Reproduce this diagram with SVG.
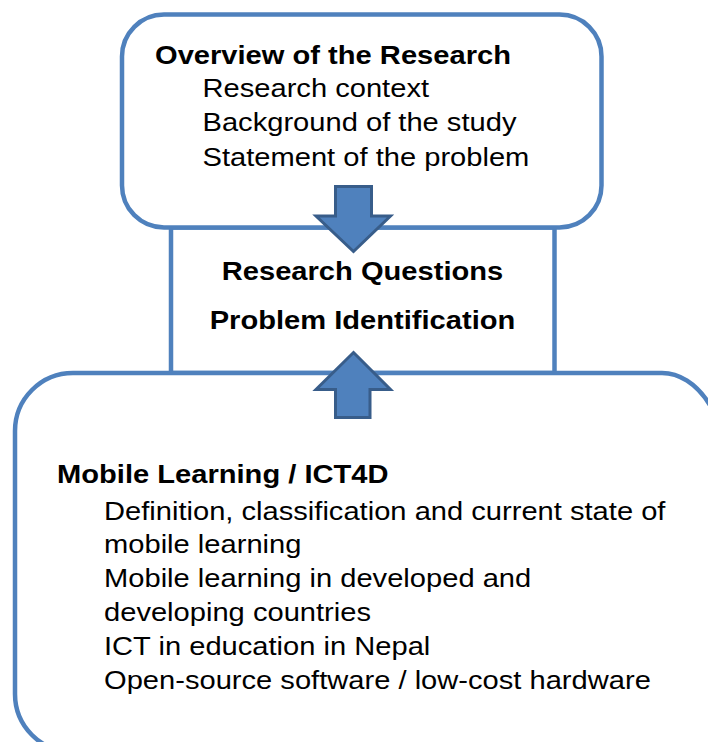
<svg xmlns="http://www.w3.org/2000/svg" width="708" height="742" viewBox="0 0 708 742">
<style>
.box{fill:#FFFFFF;stroke:#4F81BD;stroke-width:4.5}
.arrow{fill:#4F81BD;stroke:#385D8A;stroke-width:3;stroke-linejoin:miter}
text{font-family:"Liberation Sans",Arial,sans-serif;font-size:26px;fill:#000000}
.b{font-weight:bold}
.m{text-anchor:middle}
</style>
<rect width="708" height="742" fill="#FFFFFF"/>
<g id="middle">
<rect class="box" x="171" y="227.5" width="383.5" height="145.5"/>
<text class="b m" transform="translate(362.5,280) scale(1.12,1)">Research Questions</text>
<text class="b m" transform="translate(362.5,329) scale(1.12,1)">Problem Identification</text>
</g>
<g id="overview">
<rect class="box" x="122" y="14.5" width="479.5" height="213" rx="42" ry="42"/>
<text class="b" transform="translate(155,63.5) scale(1.12,1)">Overview of the Research</text>
<text transform="translate(202.5,97) scale(1.12,1)">Research context</text>
<text transform="translate(202.5,131) scale(1.12,1)">Background of the study</text>
<text transform="translate(202.5,165.5) scale(1.12,1)">Statement of the problem</text>
</g>
<g id="mobile">
<path class="box" d="M 73,373 H 662 A 68 110 0 0 1 730 483 V 752 H 73 A 58 58 0 0 1 15 694 V 431 A 58 58 0 0 1 73 373 Z"/>
<text class="b" transform="translate(57,483.3) scale(1.12,1)">Mobile Learning / ICT4D</text>
<text transform="translate(104,520) scale(1.12,1)">Definition, classification and current state of</text>
<text transform="translate(104,553.3) scale(1.12,1)">mobile learning</text>
<text transform="translate(104,586.7) scale(1.12,1)">Mobile learning in developed and</text>
<text transform="translate(104,621) scale(1.12,1)">developing countries</text>
<text transform="translate(104,655) scale(1.12,1)">ICT in education in Nepal</text>
<text transform="translate(104,689) scale(1.12,1)">Open-source software / low-cost hardware</text>
</g>
<g id="connectors">
<polygon class="arrow" points="335.5,186.5 371.5,186.5 371.5,216 390.5,216 353.5,251.5 316,216 335.5,216"/>
<polygon class="arrow" points="353.5,352.5 390.5,389.5 370,389.5 370,417.5 335.5,417.5 335.5,389.5 316,389.5"/>
</g>
</svg>
